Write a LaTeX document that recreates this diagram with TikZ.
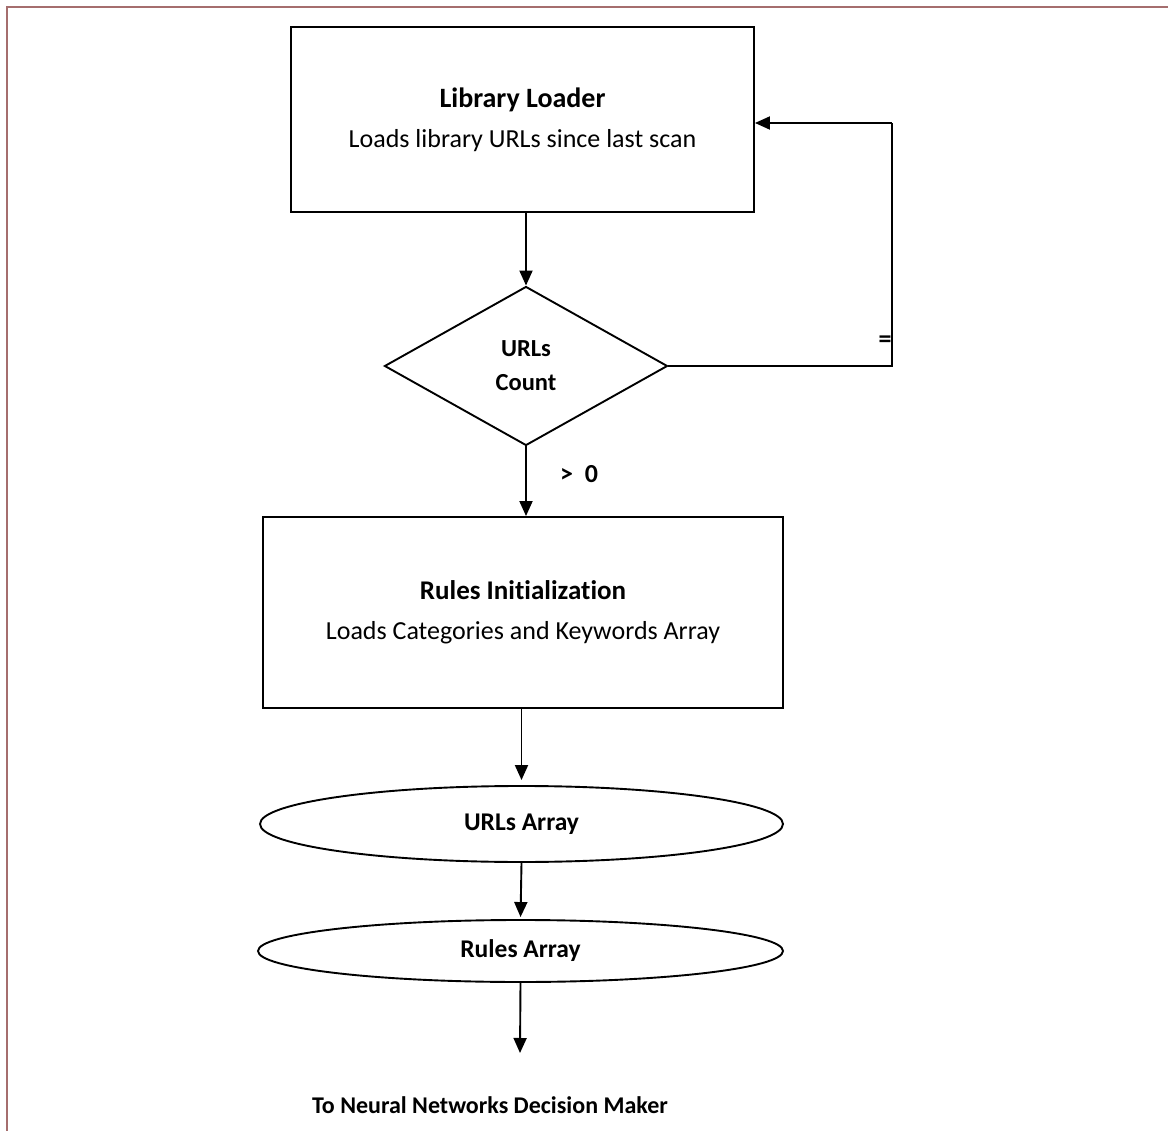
\documentclass[tikz,border=0pt]{standalone}
\usepackage{fontspec}
\setmainfont{Carlito}[Ligatures=NoCommon]
\usetikzlibrary{shapes.geometric,arrows.meta}
\definecolor{framecol}{RGB}{165,110,110}
\begin{document}
\begin{tikzpicture}[x=1pt,y=-1pt,
  line width=1.9pt,
  box/.style={draw,rectangle,inner sep=0pt,align=center,font=\fontsize{26}{40}\selectfont},
  decision/.style={draw,diamond,inner sep=0pt,align=center,font=\fontsize{24.5}{34}\selectfont\bfseries},
  datastore/.style={draw,ellipse,inner sep=0pt,font=\fontsize{25.5}{29}\selectfont\bfseries},
  arr/.style={-{Triangle[length=15pt,width=13pt]}},
  lbl/.style={font=\fontsize{24}{28}\selectfont\bfseries,inner sep=0pt}]
\useasboundingbox (0,0) rectangle (1168,1131);
\draw[framecol,line width=2pt] (7,1131) -- (7,7) -- (1168,7);
\node[box,minimum width=463pt,minimum height=185pt] (lib) at (522.5,119.5)
  {{\fontsize{28}{30}\selectfont\bfseries Library Loader}\\Loads library URLs since last scan};
\node[decision,minimum width=283pt,minimum height=159pt] (dia) at (526,366) {URLs\\Count};
\node[box,minimum width=520pt,minimum height=191pt] (rules) at (523,612.5)
  {{\fontsize{27}{30}\selectfont\bfseries Rules Initialization}\\Loads Categories and Keywords Array};
\node[datastore,minimum width=523pt,minimum height=76pt] (urls) at (521.5,824) {URLs Array};
\node[datastore,minimum width=525pt,minimum height=62pt] (rarr) at (520.5,951) {Rules Array};
\node[lbl,font=\fontsize{26}{28}\selectfont\bfseries] (gt) at (579,474) {>\ \ 0};
\node[lbl,font=\fontsize{26}{28}\selectfont\bfseries] (eq) at (885,342) {=};
\node[lbl] (out) at (490,1105) {To Neural Networks Decision Maker};
\coordinate (fb) at (892,366);
\coordinate (fbtop) at (892,123);
\coordinate (outtip) at (520,1053);
\draw[arr] (dia.north |- lib.south) -- (dia.north);
\draw[arr] (dia.south) -- (dia.south |- rules.north);
\draw (dia.east) -- (fb) -- (fbtop);
\draw[arr] (fbtop) -- (fbtop -| lib.east);
\draw[arr,shorten >=5pt] (urls.north |- rules.south) -- (urls.north);
\draw[arr,shorten >=2pt] (urls.south) -- (rarr.north);
\draw[arr] (rarr.south) -- (outtip);
\end{tikzpicture}
\end{document}
